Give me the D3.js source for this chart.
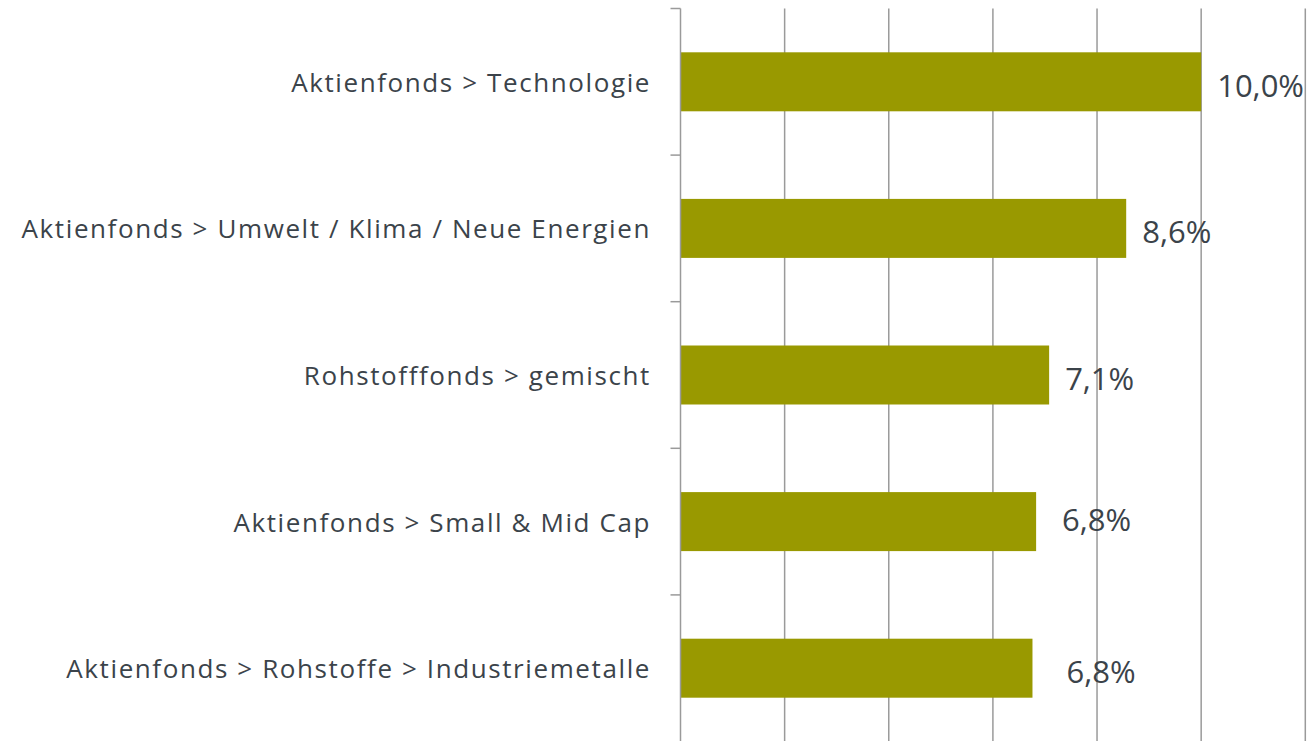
<!DOCTYPE html>
<html><head><meta charset="utf-8">
<script src="https://cdn.jsdelivr.net/npm/d3@7"></script>
<style>html,body{margin:0;padding:0;background:#fff;}svg{display:block;}</style>
</head><body>
<svg id="chart" width="1308" height="741"></svg>
<script>
const categories = [
  "Aktienfonds > Technologie",
  "Aktienfonds > Umwelt / Klima / Neue Energien",
  "Rohstofffonds > gemischt",
  "Aktienfonds > Small & Mid Cap",
  "Aktienfonds > Rohstoffe > Industriemetalle"
];
const values = [10.0, 8.56, 7.08, 6.83, 6.76];
const xTicks = [0, 2, 4, 6, 8, 10, 12];

// layout-only nudges for the value labels (px), as placed in the original
const labelDx = [0, 0, 0, 10, 18];
const labelDy = [0, 0, 0, -6, 0];

const svg = d3.select("#chart");
const font = "'Open Sans', 'Noto Sans', sans-serif";
const textColor = "#3b434a";
const gridColor = "#9a9a9a";
const barColor = "#999900";

const x = d3.scaleLinear().domain([0, 12]).range([680.5, 1305.3]);
const y = d3.scaleBand().domain(categories).range([8.5, 741.5]).paddingInner(0).paddingOuter(0);
const barH = 59;

// gridlines
svg.append("g").selectAll("line").data(xTicks.filter(d => d > 0)).join("line")
  .attr("x1", d => x(d)).attr("x2", d => x(d))
  .attr("y1", 8.5).attr("y2", 741)
  .attr("stroke", gridColor).attr("stroke-width", 1.5);

// bars
svg.append("g").selectAll("rect").data(values).join("rect")
  .attr("x", x(0))
  .attr("y", (d, i) => y(categories[i]) + y.bandwidth() / 2 - barH / 2)
  .attr("width", d => x(d) - x(0))
  .attr("height", barH)
  .attr("fill", barColor);

// y axis
const yAxis = svg.append("g");
yAxis.append("line").attr("x1", x(0)).attr("x2", x(0)).attr("y1", 8.5).attr("y2", 741)
  .attr("stroke", gridColor).attr("stroke-width", 1.5);
const bounds = categories.map(c => y(c));
yAxis.selectAll("line.tick").data(bounds).join("line").attr("class", "tick")
  .attr("x1", x(0) - 10).attr("x2", x(0))
  .attr("y1", d => d).attr("y2", d => d)
  .attr("stroke", gridColor).attr("stroke-width", 1.5);

// category labels
svg.append("g").selectAll("text").data(categories).join("text")
  .attr("x", 651)
  .attr("y", d => y(d) + y.bandwidth() / 2 + 10)
  .attr("text-anchor", "end")
  .attr("font-family", font).attr("font-size", 26)
  .attr("letter-spacing", "1.6px")
  .attr("fill", textColor)
  .text(d => d);

// value labels
const fmt = d3.format(".1f");
svg.append("g").selectAll("text").data(values).join("text")
  .attr("x", (d, i) => x(d) + 16 + labelDx[i])
  .attr("y", (d, i) => y(categories[i]) + y.bandwidth() / 2 + 15 + labelDy[i])
  .attr("font-family", font).attr("font-size", 31)
  .attr("fill", textColor)
  .text(d => fmt(d).replace(".", ",") + "%");
</script>
</body></html>
